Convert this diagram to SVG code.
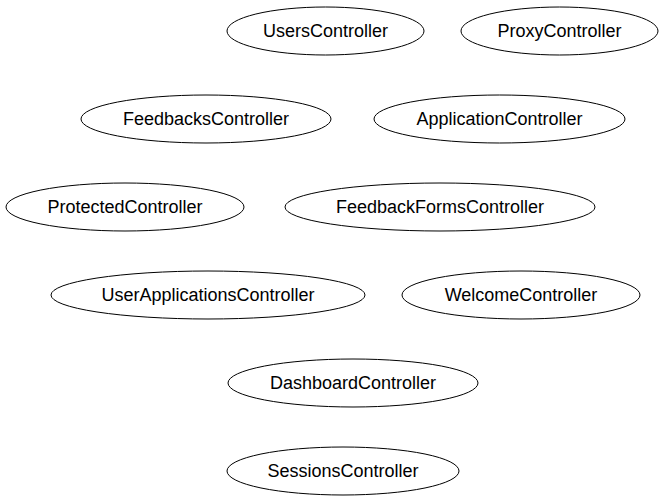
<svg xmlns="http://www.w3.org/2000/svg" width="665" height="501" viewBox="0 0 665 501">
<style>
ellipse{fill:none;stroke:#000;stroke-width:1}
text{font-family:"Liberation Sans",Arial,sans-serif;font-size:18px;text-anchor:middle;fill:#000}
</style>
<rect width="665" height="501" fill="#fff"/>
<g id="connectors"></g>
<g id="UsersController"><ellipse cx="325.5" cy="31" rx="98.5" ry="24"/><text x="325.5" y="37">UsersController</text></g>
<g id="ProxyController"><ellipse cx="559.5" cy="31" rx="98.5" ry="24"/><text x="559.5" y="37">ProxyController</text></g>
<g id="FeedbacksController"><ellipse cx="206" cy="119" rx="125" ry="24"/><text x="206" y="125">FeedbacksController</text></g>
<g id="ApplicationController"><ellipse cx="499.5" cy="119" rx="125.5" ry="24"/><text x="499.5" y="125">ApplicationController</text></g>
<g id="ProtectedController"><ellipse cx="125" cy="207" rx="119" ry="24"/><text x="125" y="213">ProtectedController</text></g>
<g id="FeedbackFormsController"><ellipse cx="440" cy="207" rx="155" ry="24"/><text x="440" y="213">FeedbackFormsController</text></g>
<g id="UserApplicationsController"><ellipse cx="208" cy="295" rx="157" ry="24"/><text x="208" y="301">UserApplicationsController</text></g>
<g id="WelcomeController"><ellipse cx="521" cy="295" rx="119" ry="24"/><text x="521" y="301">WelcomeController</text></g>
<g id="DashboardController"><ellipse cx="353" cy="383" rx="125" ry="24"/><text x="353" y="389">DashboardController</text></g>
<g id="SessionsController"><ellipse cx="343" cy="471" rx="116" ry="24"/><text x="343" y="477">SessionsController</text></g>
</svg>
